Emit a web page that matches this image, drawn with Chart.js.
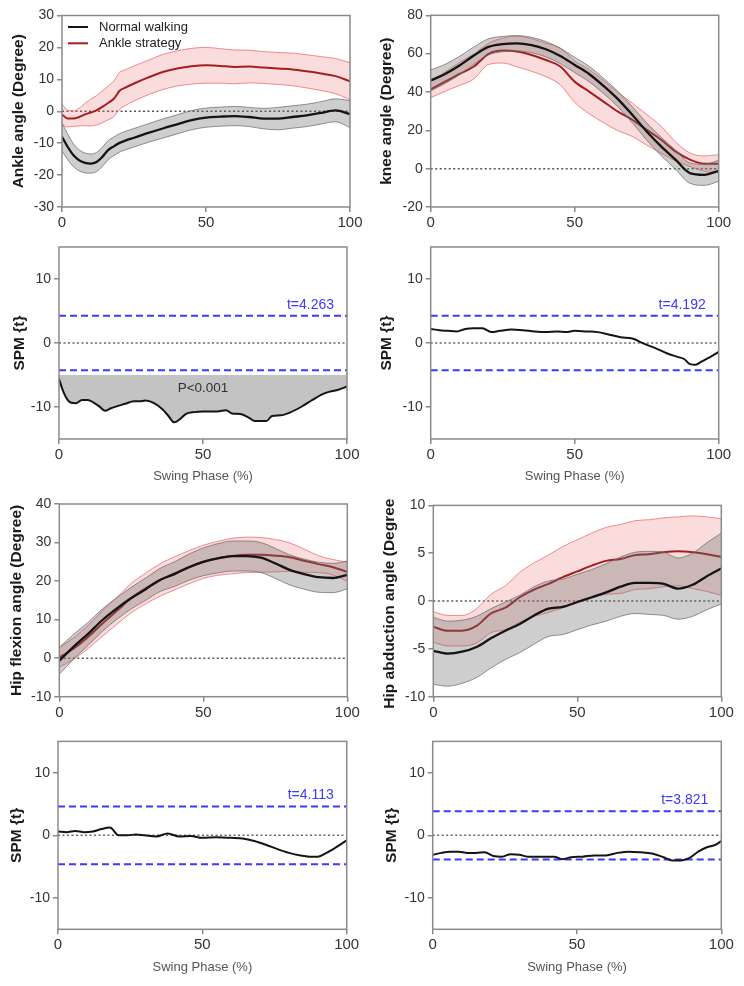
<!DOCTYPE html>
<html>
<head>
<meta charset="utf-8">
<script src="https://cdn.jsdelivr.net/npm/chart.js@4.4.0/dist/chart.umd.min.js"></script>
<style>
  body { margin: 0; background: #fff; width: 744px; height: 986px; position: relative; overflow: hidden; }
  canvas { position: absolute; }
</style>
</head>
<body>
<script>
const FONT = '"Liberation Sans", Arial, Helvetica, sans-serif';
Chart.defaults.font.family = FONT;
Chart.defaults.animation = false;

// ---------- data ----------
const xTicks = [0, 50, 100];
const refX = [0, 100];
const legendLabels = ['Normal walking', 'Ankle strategy'];

// ankle angle
const ankleX = [0,2,4,6,8,10,12,14,16,18,20,22,25,30,35,40,45,50,55,60,65,70,75,80,85,90,95,100];
const ankleNormal = [-8.0,-11.2,-13.8,-15.4,-16.2,-16.4,-15.9,-14.3,-12.2,-11.0,-9.9,-9.2,-8.3,-6.8,-5.4,-4.1,-2.8,-2.0,-1.7,-1.5,-1.8,-2.3,-2.3,-1.8,-1.3,-0.5,0.3,-0.9];
const ankleNormalSd = [4.4,4.0,3.6,3.3,3.1,3.0,3.0,3.0,3.0,2.9,2.9,2.9,2.9,2.9,3.0,3.0,3.0,3.0,3.0,3.0,3.0,3.2,3.5,3.5,3.5,3.5,3.6,4.2];
const ankleStrategy = [-1.0,-2.3,-2.3,-1.8,-1.0,-0.4,0.3,1.4,2.6,3.9,6.4,7.4,8.7,10.6,12.3,13.4,14.1,14.4,14.2,13.9,14.0,13.7,13.4,13.1,12.5,11.8,11.0,9.4];
const ankleStrategySd = [3.3,2.6,2.4,2.8,3.5,4.2,4.6,5.0,5.3,5.6,5.8,5.6,5.5,5.4,5.5,5.5,5.6,5.6,5.4,5.3,5.1,5.0,5.0,5.1,5.2,5.3,5.5,5.8];
const ankleYTicks = [-30,-20,-10,0,10,20,30];

// shared phase grid for knee / hip
const phase5 = [0,5,10,15,20,25,30,35,40,45,50,55,60,65,70,75,80,85,90,95,100];

// knee angle
const kneeNormal = [46.0,49.4,53.8,59.0,63.5,65.0,65.4,64.5,62.3,58.8,54.1,49.4,43.2,36.3,28.1,19.4,11.6,4.7,-2.3,-3.2,-1.1];
const kneeNormalSd = [5.5,5.0,4.8,4.5,4.2,4.0,4.0,4.0,4.0,4.0,4.0,4.0,4.0,4.0,4.2,4.5,4.8,5.0,5.3,5.5,5.5];
const kneeStrategy = [41.4,45.4,49.4,53.3,59.8,61.6,61.1,59.3,56.7,53.3,45.4,40.2,35.0,29.8,25.5,20.3,15.1,9.0,4.7,2.6,2.6];
const kneeStrategySd = [4.4,5.0,6.0,6.5,5.5,6.5,8.0,8.5,8.7,9.6,10.8,11.5,11.0,10.0,8.7,8.0,7.0,5.0,3.5,4.0,4.7];
const kneeYTicks = [-20,0,20,40,60,80];

// hip flexion angle
const hipFlexNormal = [-0.7,3.0,6.3,9.9,12.9,15.6,17.9,20.3,21.8,23.6,25.0,25.9,26.5,26.5,26.1,24.6,22.9,21.8,21.0,20.8,21.6];
const hipFlexNormalSd = [3.5,3.2,3.0,2.9,2.8,2.8,2.9,3.0,3.2,3.4,3.6,3.8,3.9,3.9,3.9,3.9,3.9,3.9,3.9,3.8,3.6];
const hipFlexStrategy = [0.2,2.5,5.5,9.0,12.3,15.6,18.1,20.3,22.0,23.6,25.0,25.9,26.5,26.8,26.8,26.6,26.2,25.3,24.4,23.6,22.4];
const hipFlexStrategySd = [2.5,2.8,3.0,3.3,3.5,3.8,4.0,4.2,4.3,4.3,4.3,4.4,4.6,4.6,4.5,4.2,3.7,3.0,2.2,2.0,2.5];
const hipFlexYTicks = [-10,0,10,20,30,40];

// hip abduction angle
const hipAbdNormal = [-5.2,-5.5,-5.3,-4.8,-3.9,-3.1,-2.4,-1.5,-0.8,-0.6,-0.1,0.4,0.9,1.5,1.9,1.9,1.8,1.3,1.7,2.6,3.4];
const hipAbdNormalSd = [3.5,3.4,3.3,3.2,3.1,3.0,3.0,3.0,2.9,2.9,2.9,2.9,3.0,3.1,3.2,3.3,3.3,3.2,3.3,3.5,3.7];
const hipAbdStrategy = [-2.7,-3.1,-3.1,-2.6,-1.3,-0.7,0.4,1.2,1.8,2.5,3.1,3.7,4.2,4.4,4.8,4.9,5.1,5.2,5.1,4.9,4.6];
const hipAbdStrategySd = [1.6,1.6,1.6,1.8,2.0,2.3,2.6,2.8,3.0,3.2,3.3,3.4,3.5,3.6,3.6,3.6,3.6,3.6,3.8,3.9,4.0];
const hipAbdYTicks = [-10,-5,0,5,10];

// SPM {t} curves
const spmYTicks = [-10, 0, 10];
const spmAnkleX = [0,1,2,3,4,6,8,10,12,14,16,18,20,23,26,28,30,33,36,38,40,42,44,47,50,55,58,60,63,66,68,72,74,77,80,84,88,91,94,97,100];
const spmAnkle = [-5.6,-7.0,-8.1,-8.9,-9.3,-9.4,-8.9,-8.9,-9.3,-9.9,-10.6,-10.2,-9.9,-9.5,-9.1,-9.1,-9.0,-9.4,-10.4,-11.4,-12.4,-11.9,-11.1,-10.8,-10.7,-10.7,-10.5,-11.0,-11.1,-11.7,-12.2,-12.2,-11.4,-11.3,-10.9,-10.0,-8.9,-8.1,-7.6,-7.3,-6.8];
const spmKneeX = [0,3,6,9,12,15,18,21,24,28,32,36,40,44,47,50,54,58,62,66,70,74,78,82,86,88,90,92,94,97,100];
const spmKnee = [2.2,2.0,1.9,1.8,2.2,2.3,2.3,1.7,1.9,2.1,2.0,1.8,1.7,1.8,1.7,1.9,1.8,1.7,1.3,0.9,0.7,-0.1,-0.8,-1.6,-2.2,-2.5,-3.3,-3.4,-2.9,-2.2,-1.4];
const spmHipFlexX = [0,3,6,9,12,15,18,21,24,27,30,34,38,42,46,50,55,60,64,68,72,76,80,84,88,90,93,96,100];
const spmHipFlex = [0.6,0.5,0.7,0.5,0.6,1.0,1.25,0.0,0.0,0.15,0.0,-0.2,0.3,-0.2,-0.1,-0.4,-0.3,-0.4,-0.5,-0.9,-1.5,-2.2,-2.8,-3.2,-3.4,-3.4,-2.8,-2.0,-0.8];
const spmHipAbdX = [0,3,6,9,12,15,18,21,24,27,30,33,36,39,42,45,48,52,56,60,64,68,72,76,80,83,86,89,92,95,98,100];
const spmHipAbd = [-3.1,-2.8,-2.6,-2.6,-2.8,-2.8,-2.7,-3.3,-3.4,-3.0,-3.1,-3.4,-3.4,-3.4,-3.4,-3.8,-3.5,-3.4,-3.2,-3.2,-2.8,-2.6,-2.7,-2.9,-3.5,-4.0,-4.0,-3.6,-2.6,-1.9,-1.5,-0.9];

// critical thresholds (label text, and line level as drawn)
const spmThresholdLabels = ['t=4.263', 't=4.192', 't=4.113', 't=3.821'];
const spmThresholdLines = [4.263, 4.27, 4.6, 3.85];
const ankleClusterTop = -5;          // top of the shaded supra-threshold cluster
const ankleClusterP = {text: 'P<0.001', x: 50, y: -7.1};

// ---------- layout (page pixels) ----------
const layout = [
  {canvas: [0, 0, 372, 230],     plot: [62, 15.5, 350, 207],       titleOff: 9},
  {canvas: [372, 0, 372, 230],   plot: [430.7, 15.3, 718.7, 207],  titleOff: 5.7},
  {canvas: [0, 230, 372, 256],   plot: [59, 247, 347, 439],        titleOff: 10.7, xTitlePad: 1.7},
  {canvas: [372, 230, 372, 256], plot: [430.7, 247, 718.7, 439],   titleOff: 5.7,  xTitlePad: 1.7},
  {canvas: [0, 490, 372, 240],   plot: [59.3, 504, 347.3, 696.7],  titleOff: 7.9},
  // title of this panel runs off the top edge in the original figure
  {canvas: [372, 494, 372, 236], plot: [433.3, 504, 721.3, 696.7], titleOff: 8.7, clipTitle: 5},
  {canvas: [0, 730, 372, 256],   plot: [58, 736, 346.7, 929.3],    titleOff: 7.4,  xTitlePad: 11.2},
  {canvas: [372, 730, 372, 256], plot: [432.7, 736, 721.3, 929.3], titleOff: 10.2, xTitlePad: 11.2}
];

const COL = {
  normal: '#141414',
  strategy: '#a31f1f',
  grayFill: 'rgba(105,105,105,0.33)',
  grayEdge: 'rgba(110,110,110,0.75)',
  redFill: 'rgba(238,110,110,0.24)',
  redEdge: 'rgba(236,120,120,0.85)',
  blue: '#3a3aff',
  frame: '#8a8a8a'
};

function pts(xs, ys) { return xs.map((x, i) => ({x: x, y: ys[i]})); }
function band(xs, m, sd, sign) { return xs.map((x, i) => ({x: x, y: m[i] + sign * sd[i]})); }

function makeCtx(p) {
  const cv = document.createElement('canvas');
  cv.width = p.canvas[2];
  cv.height = p.canvas[3];
  cv.style.left = p.canvas[0] + 'px';
  cv.style.top = p.canvas[1] + 'px';
  cv.style.width = p.canvas[2] + 'px';
  cv.style.height = p.canvas[3] + 'px';
  if (p.clipTitle) {
    const c = p.clipTitle;
    cv.style.clipPath = 'polygon(0 ' + c + 'px, 40px ' + c + 'px, 40px 0, 100% 0, 100% 100%, 0 100%)';
  }
  document.body.appendChild(cv);
  return cv.getContext('2d');
}

const framePlugin = {
  id: 'frame',
  afterDatasetsDraw(chart) {
    const a = chart.chartArea, c = chart.ctx;
    c.save();
    c.strokeStyle = COL.frame;
    c.lineWidth = 1.5;
    c.strokeRect(a.left, a.top, a.right - a.left, a.bottom - a.top);
    c.restore();
  }
};

function scalesFor(p, yTicks, yTitle, xTitle) {
  const grid = {drawOnChartArea: false, drawTicks: true, tickLength: 5, color: COL.frame, lineWidth: 1.5};
  return {
    x: {
      type: 'linear', min: 0, max: 100,
      afterBuildTicks: s => { s.ticks = xTicks.map(v => ({value: v})); },
      afterFit: s => { s.height = p.canvas[1] + p.canvas[3] - p.plot[3]; },
      ticks: {font: {size: 15}, color: '#333', padding: 2, maxRotation: 0},
      grid: grid,
      border: {display: false},
      title: xTitle ? {display: true, text: xTitle, font: {size: 13}, color: '#555',
                       padding: {top: 0, bottom: p.xTitlePad}} : {display: false}
    },
    y: {
      min: yTicks.min, max: yTicks.max,
      afterBuildTicks: s => { s.ticks = yTicks.list.map(v => ({value: v})); },
      afterFit: s => { s.width = p.plot[0] - p.canvas[0]; },
      ticks: {font: {size: 14}, color: '#333', padding: 3},
      grid: grid,
      border: {display: false},
      title: {display: true, text: yTitle, font: {size: 15.5, weight: 'bold'}, color: '#1a1a1a',
              padding: {top: p.titleOff, bottom: 0}}
    }
  };
}

function baseOptions(p, scales) {
  return {
    responsive: false,
    animation: false,
    layout: {padding: {left: 0, bottom: 0, top: p.plot[1] - p.canvas[1], right: p.canvas[0] + p.canvas[2] - p.plot[2]}},
    plugins: {legend: {display: false}, tooltip: {enabled: false}},
    elements: {point: {radius: 0}, line: {cubicInterpolationMode: 'monotone'}},
    scales: scales
  };
}

function anglePanel(i, yTitle, yList, xs, nm, nsd, sm, ssd, extra) {
  const p = layout[i];
  const yT = {list: yList, min: yList[0], max: yList[yList.length - 1]};
  const datasets = [
    {data: pts(xs, nm), borderColor: COL.normal, borderWidth: 2.3, fill: false, order: 0},
    {data: band(xs, nm, nsd, 1), borderColor: COL.grayEdge, borderWidth: 1, backgroundColor: COL.grayFill, fill: '+1', order: 1},
    {data: band(xs, nm, nsd, -1), borderColor: COL.grayEdge, borderWidth: 1, fill: false, order: 1},
    {data: pts(xs, sm), borderColor: COL.strategy, borderWidth: 2, fill: false, order: 2},
    {data: band(xs, sm, ssd, 1), borderColor: COL.redEdge, borderWidth: 1, backgroundColor: COL.redFill, fill: '+1', order: 3},
    {data: band(xs, sm, ssd, -1), borderColor: COL.redEdge, borderWidth: 1, fill: false, order: 3},
    {data: pts(refX, [0, 0]), borderColor: '#555', borderWidth: 1.5, borderDash: [2, 2.5], fill: false, order: 4}
  ];
  new Chart(makeCtx(p), {
    type: 'line',
    data: {datasets: datasets},
    options: baseOptions(p, scalesFor(p, yT, yTitle, null)),
    plugins: [framePlugin].concat(extra || [])
  });
}

function spmPanel(i, k, xs, ys, fillTop, pText) {
  const p = layout[i];
  const yT = {list: spmYTicks, min: -15, max: 15};
  const thr = spmThresholdLines[k];
  const curve = {data: pts(xs, ys), borderColor: COL.normal, borderWidth: 2, fill: false, order: 0};
  if (fillTop !== null) {
    curve.fill = {value: fillTop};
    curve.backgroundColor = '#c3c3c3';
  }
  const datasets = [
    curve,
    {data: pts(refX, [thr, thr]), borderColor: COL.blue, borderWidth: 2, borderDash: [7, 4], fill: false, order: 1},
    {data: pts(refX, [-thr, -thr]), borderColor: COL.blue, borderWidth: 2, borderDash: [7, 4], fill: false, order: 1},
    {data: pts(refX, [0, 0]), borderColor: '#666', borderWidth: 1.5, borderDash: [2, 2.5], fill: false, order: 2}
  ];
  const textPlugin = {
    id: 'spmText',
    afterDatasetsDraw(chart) {
      const c = chart.ctx, a = chart.chartArea, y = chart.scales.y, x = chart.scales.x;
      c.save();
      c.font = '14px ' + FONT;
      c.fillStyle = COL.blue;
      c.textAlign = 'right';
      c.textBaseline = 'bottom';
      c.fillText(spmThresholdLabels[k], a.right - 13, y.getPixelForValue(thr) - 4);
      if (pText) {
        c.font = '13.5px ' + FONT;
        c.fillStyle = '#333';
        c.textAlign = 'center';
        c.textBaseline = 'middle';
        c.fillText(pText.text, x.getPixelForValue(pText.x), y.getPixelForValue(pText.y));
      }
      c.restore();
    }
  };
  new Chart(makeCtx(p), {
    type: 'line',
    data: {datasets: datasets},
    options: baseOptions(p, scalesFor(p, yT, 'SPM {t}', 'Swing Phase (%)')),
    plugins: [framePlugin, textPlugin]
  });
}

const legendPlugin = {
  id: 'seriesLegend',
  afterDatasetsDraw(chart) {
    const c = chart.ctx, a = chart.chartArea;
    const colors = [COL.normal, COL.strategy];
    c.save();
    c.font = '13px ' + FONT;
    c.textBaseline = 'middle';
    c.textAlign = 'left';
    legendLabels.forEach((lab, j) => {
      const yy = a.top + 11.5 + j * 16.3;
      c.strokeStyle = colors[j];
      c.lineWidth = 2;
      c.beginPath();
      c.moveTo(a.left + 6, yy);
      c.lineTo(a.left + 26, yy);
      c.stroke();
      c.fillStyle = '#222';
      c.fillText(lab, a.left + 37, yy);
    });
    c.restore();
  }
};

anglePanel(0, 'Ankle angle (Degree)', ankleYTicks, ankleX, ankleNormal, ankleNormalSd, ankleStrategy, ankleStrategySd, [legendPlugin]);
anglePanel(1, 'knee angle (Degree)', kneeYTicks, phase5, kneeNormal, kneeNormalSd, kneeStrategy, kneeStrategySd);
spmPanel(2, 0, spmAnkleX, spmAnkle, ankleClusterTop, ankleClusterP);
spmPanel(3, 1, spmKneeX, spmKnee, null, null);
anglePanel(4, 'Hip flexion angle (Degree)', hipFlexYTicks, phase5, hipFlexNormal, hipFlexNormalSd, hipFlexStrategy, hipFlexStrategySd);
anglePanel(5, 'Hip abduction angle (Degree)', hipAbdYTicks, phase5, hipAbdNormal, hipAbdNormalSd, hipAbdStrategy, hipAbdStrategySd);
spmPanel(6, 2, spmHipFlexX, spmHipFlex, null, null);
spmPanel(7, 3, spmHipAbdX, spmHipAbd, null, null);
</script>
</body>
</html>
